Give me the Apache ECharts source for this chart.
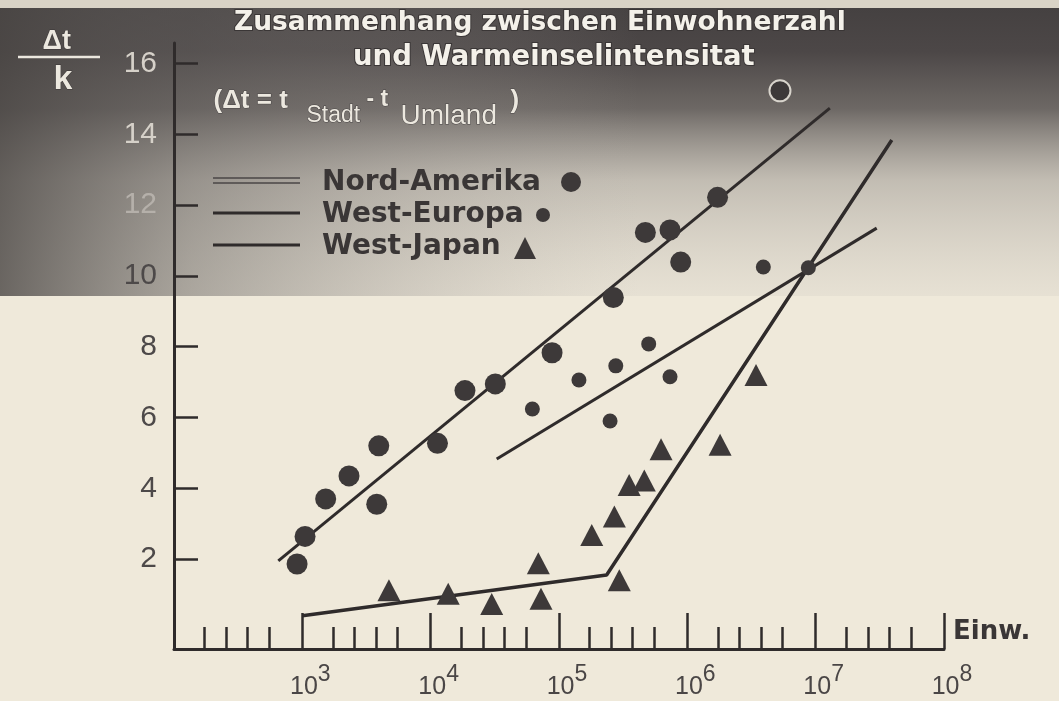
<!DOCTYPE html>
<html>
<head>
<meta charset="utf-8">
<script src="https://cdn.jsdelivr.net/npm/echarts@6.0.0/dist/echarts.min.js"></script>
<style>
html,body{margin:0;padding:0;background:#efe9da;}
#chart{width:1059px;height:701px;}
</style>
</head>
<body>
<div id="chart"></div>
<script>
// ---- data (population = Einwohner, dt = Wärmeinselintensität in K) ----
const seriesNames = ['Nord-Amerika', 'West-Europa', 'West-Japan'];
const naPop = [910, 1050, 1520, 2310, 3940, 3800, 11300, 18500, 31900, 88300, 265000, 471000, 733000, 888000, 1720000, 5270000];
const naDt  = [1.86, 2.64, 3.70, 4.35, 5.20, 3.55, 5.27, 6.76, 6.95, 7.83, 9.39, 11.23, 11.30, 10.39, 12.22, 15.23];
const wePop = [62000, 143000, 277000, 250000, 500000, 733000, 3910000, 8770000];
const weDt  = [6.24, 7.06, 7.46, 5.90, 8.08, 7.15, 10.25, 10.23];
const wjPop = [4730, 13700, 29900, 72400, 69000, 180000, 270000, 352000, 462000, 624000, 295000, 1800000, 3430000];
const wjDt  = [1.12, 1.02, 0.73, 0.88, 1.88, 2.68, 3.20, 4.09, 4.22, 5.10, 1.40, 5.23, 7.20];
const naLinePop = [650, 12900000];
const naLineDt  = [1.95, 14.74];
const weLinePop = [32700, 29900000];
const weLineDt  = [4.83, 11.35];
const wjLinePop = [1000, 235000, 39200000];
const wjLineDt  = [0.40, 1.55, 13.84];
const yTicks = [2, 4, 6, 8, 10, 12, 14, 16];
const xDecades = [100, 1000, 10000, 100000, 1000000, 10000000];
const xMinorFactors = [1.73, 2.56, 3.75, 5.52];
const titleLines = ['Zusammenhang zwischen Einwohnerzahl', 'und Warmeinselintensitat'];
const xAxisName = 'Einw.';

const pairs = (xs, ys) => xs.map((x, i) => [x, ys[i]]);
const xMinorTicks = [];
xDecades.forEach(d => xMinorFactors.forEach(f => xMinorTicks.push(d * f)));
const INK = '#2f2b2b';
const DOT = '#3d3939';
const LIGHT = '#ece8df';

const chart = echarts.init(document.getElementById('chart'), null, {renderer: 'canvas'});

const option = {
  backgroundColor: '#efe9da',
  animation: false,
  grid: {left: 174, right: 115, top: 43, bottom: 52, containLabel: false},
  xAxis: [{
    type: 'log', logBase: 10, min: 100, max: 1e8,
    axisLine: {onZero: false, lineStyle: {color: INK, width: 3}},
    axisTick: {inside: true, length: 36, lineStyle: {color: INK, width: 2.5}},
    splitLine: {show: false},
    name: xAxisName, nameLocation: 'end', nameGap: 9,
    nameTextStyle: {fontFamily: 'DejaVu Sans', fontWeight: 'bold', fontSize: 26, color: '#3a3636', verticalAlign: 'bottom', padding: [0, 0, 4, 0]},
    axisLabel: {
      margin: 14,
      padding: [0, 0, 0, 16],
      formatter: function (v) {
        const e = Math.round(Math.log10(v));
        if (e <= 2) return '';
        return '{b|10}{s|' + e + '}';
      },
      rich: {
        b: {fontFamily: 'Liberation Sans', fontSize: 25, color: '#4a4646', padding: [12, 0, 0, 0], verticalAlign: 'bottom'},
        s: {fontFamily: 'Liberation Sans', fontSize: 23, color: '#4a4646', verticalAlign: 'top'}
      }
    }
  }, {
    type: 'log', logBase: 10, min: 100, max: 1e8, position: 'bottom',
    axisLine: {show: false, onZero: false},
    axisTick: {show: true, inside: true, length: 22, customValues: xMinorTicks, lineStyle: {color: INK, width: 2.5}},
    axisLabel: {show: false},
    splitLine: {show: false}
  }],
  yAxis: {
    type: 'value', min: -0.54, max: 16.58,
    axisLine: {show: true, onZero: false, lineStyle: {color: INK, width: 3}},
    axisTick: {show: true, inside: true, length: 24, customValues: yTicks, lineStyle: {color: INK, width: 2.5}},
    axisLabel: {
      customValues: yTicks, margin: 17, fontFamily: 'Liberation Sans', fontSize: 30,
      color: function (v) { return v >= 14 ? '#d6d1c9' : (v >= 12 ? '#b5b0aa' : '#4d4949'); }
    },
    splitLine: {show: false}
  },
  series: [
    {name: seriesNames[0] + ' Trend', type: 'line', data: pairs(naLinePop, naLineDt), showSymbol: false, symbol: 'none',
     lineStyle: {color: INK, width: 3}, z: 3},
    {name: seriesNames[1] + ' Trend', type: 'line', data: pairs(weLinePop, weLineDt), showSymbol: false, symbol: 'none',
     lineStyle: {color: INK, width: 3}, z: 3},
    {name: seriesNames[2] + ' Trend', type: 'line', data: pairs(wjLinePop, wjLineDt), showSymbol: false, symbol: 'none',
     lineStyle: {color: INK, width: 3.5}, z: 3},
    {name: seriesNames[0], type: 'scatter', symbol: 'circle', symbolSize: 21,
     data: pairs(naPop, naDt).map((p, i) => i === naPop.length - 1 ? {value: p, itemStyle: {borderColor: '#d8d4cc', borderWidth: 2}} : p),
     itemStyle: {color: DOT, opacity: 1}, z: 4},
    {name: seriesNames[1], type: 'scatter', symbol: 'circle', symbolSize: 15,
     data: pairs(wePop, weDt), itemStyle: {color: DOT, opacity: 1}, z: 4},
    {name: seriesNames[2], type: 'scatter', symbol: 'triangle', symbolSize: [23, 22],
     data: pairs(wjPop, wjDt), itemStyle: {color: DOT, opacity: 1}, z: 4}
  ],
  graphic: [
    // scanned dark header band
    {type: 'rect', z: -100, silent: true, shape: {x: 0, y: 8, width: 1059, height: 288},
     style: {fill: new echarts.graphic.LinearGradient(0, 0, 0, 1, [
       {offset: 0, color: '#454141'},
       {offset: 0.15, color: '#4c4747'},
       {offset: 0.35, color: 'rgba(95,90,88,0.9)'},
       {offset: 0.6, color: 'rgba(150,145,140,0.5)'},
       {offset: 1, color: 'rgba(200,195,188,0.22)'}
     ])}},
    {type: 'rect', z: -99, silent: true, shape: {x: 0, y: 8, width: 640, height: 288},
     style: {fill: new echarts.graphic.LinearGradient(0, 0, 1, 0, [
       {offset: 0, color: 'rgba(75,71,69,0.8)'},
       {offset: 0.3, color: 'rgba(100,96,94,0.45)'},
       {offset: 1, color: 'rgba(180,175,170,0)'}
     ])}},
    {type: 'rect', z: -99, silent: true, shape: {x: 0, y: 0, width: 1059, height: 8},
     style: {fill: '#d9d3c6'}},
    // title
    {type: 'text', z: 100, left: 233, top: 9, style: {text: titleLines[0], font: 'bold 26.5px "DejaVu Sans"', fill: '#f4f1ea', stroke: '#3a3636', lineWidth: 2}},
    {type: 'text', z: 100, left: 352, top: 43, style: {text: titleLines[1], font: 'bold 27.5px "DejaVu Sans"', fill: '#f4f1ea', stroke: '#3a3636', lineWidth: 2}},
    // definition of delta t
    {type: 'text', z: 100, left: 213, top: 87, style: {text: '(Δt = t', font: 'bold 26px "Liberation Sans"', fill: LIGHT, stroke: '#4a4646', lineWidth: 1}},
    {type: 'text', z: 100, left: 306, top: 104, style: {text: 'Stadt', font: '23px "Liberation Sans"', fill: LIGHT, stroke: '#4a4646', lineWidth: 1}},
    {type: 'text', z: 100, left: 366, top: 88, style: {text: '- t', font: 'bold 23px "Liberation Sans"', fill: LIGHT, stroke: '#4a4646', lineWidth: 1}},
    {type: 'text', z: 100, left: 400, top: 102, style: {text: 'Umland', font: '28px "Liberation Sans"', fill: LIGHT, stroke: '#4a4646', lineWidth: 1}},
    {type: 'text', z: 100, left: 510, top: 87, style: {text: ')', font: 'bold 26px "Liberation Sans"', fill: LIGHT, stroke: '#4a4646', lineWidth: 1}},
    // y axis unit  Δt / k
    {type: 'text', z: 100, left: 42, top: 28, style: {text: 'Δt', font: 'bold 27px "Liberation Sans"', fill: LIGHT, stroke: '#3a3636', lineWidth: 1}},
    {type: 'line', z: 100, shape: {x1: 18, y1: 57, x2: 100, y2: 57}, style: {stroke: LIGHT, lineWidth: 2.5}},
    {type: 'text', z: 100, left: 53, top: 62, style: {text: 'k', font: 'bold 34px "Liberation Sans"', fill: LIGHT, stroke: '#3a3636', lineWidth: 1}},
    // legend
    {type: 'line', z: 100, shape: {x1: 213, y1: 178, x2: 300, y2: 178}, style: {stroke: '#4a4646', lineWidth: 1.5}},
    {type: 'line', z: 100, shape: {x1: 213, y1: 183, x2: 300, y2: 183}, style: {stroke: '#4a4646', lineWidth: 1.5}},
    {type: 'line', z: 100, shape: {x1: 213, y1: 213, x2: 300, y2: 213}, style: {stroke: INK, lineWidth: 3}},
    {type: 'line', z: 100, shape: {x1: 213, y1: 245, x2: 300, y2: 245}, style: {stroke: INK, lineWidth: 3}},
    {type: 'text', z: 100, x: 322, y: 183, style: {text: seriesNames[0], font: 'bold 28px "DejaVu Sans"', fill: '#3a3636', verticalAlign: 'middle'}},
    {type: 'text', z: 100, x: 322, y: 215, style: {text: seriesNames[1], font: 'bold 28px "DejaVu Sans"', fill: '#3a3636', verticalAlign: 'middle'}},
    {type: 'text', z: 100, x: 322, y: 247, style: {text: seriesNames[2], font: 'bold 28px "DejaVu Sans"', fill: '#3a3636', verticalAlign: 'middle'}},
    {type: 'circle', z: 100, shape: {cx: 571, cy: 182, r: 10}, style: {fill: DOT}},
    {type: 'circle', z: 100, shape: {cx: 543, cy: 215, r: 7}, style: {fill: DOT}},
    {type: 'polygon', z: 100, shape: {points: [[525, 237], [536, 259], [514, 259]]}, style: {fill: DOT}}
  ]
};
chart.setOption(option);
</script>
</body>
</html>
